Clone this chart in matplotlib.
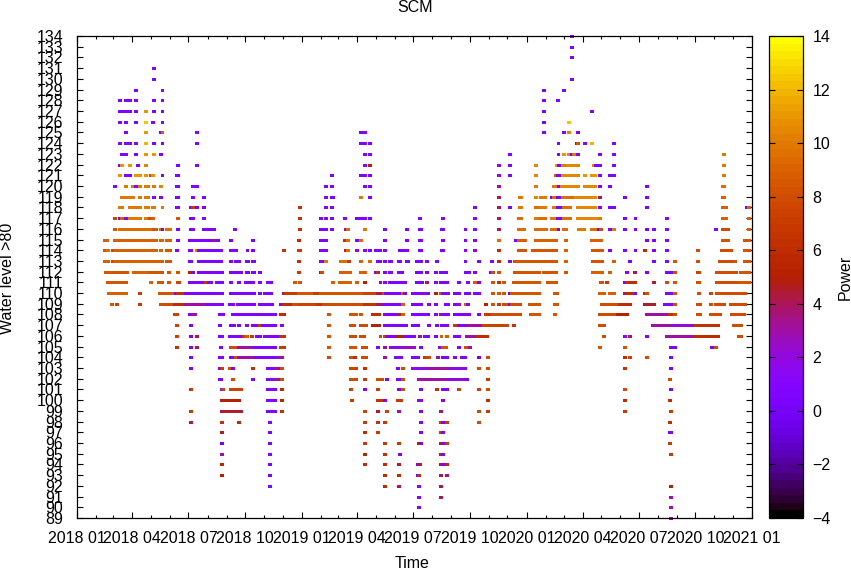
#!/usr/bin/env python3
"""SCM power by water level and date, gnuplot look."""

import matplotlib
matplotlib.use("Agg")
import matplotlib.pyplot as plt
import matplotlib.dates as mdates
from matplotlib.cm import ScalarMappable
from matplotlib.colors import Normalize

plt.rcParams["font.family"] = ["Liberation Sans", "DejaVu Sans"]

# ------------------------------------------------------------
# Data: (first day, last day, power)
# days are counted from 2018-01-01, one list per water level
# ------------------------------------------------------------

w134 = [(803, 803, 0.5)]
w133 = [(803, 803, 0.5)]
w132 = [(803, 803, 0.5)]
w131 = [(124, 124, 0.5)]
w130 = [(124, 124, 0.5), (803, 803, 0.5)]
w129 = [(95, 95, 0.5), (138, 138, 0.5), (757, 757, 0.5), (790, 790, 0.5)]
w128 = [(69, 69, 0.5), (78, 78, 0.5), (86, 86, 0.5), (95, 95, 0.5), (124, 124, 0.5), (138, 138, 0.5),
        (757, 757, 0.5), (780, 780, 0.5)]
w127 = [(69, 78, 0.5), (86, 86, 0.5), (95, 95, 0.5), (111, 111, 11), (124, 124, 0.5), (138, 138, 0.5),
        (757, 757, 0.5), (835, 835, 0.5)]
w126 = [(69, 69, 0.5), (78, 78, 0.5), (95, 95, 0.5), (111, 111, 12.5), (122, 122, 0.5), (138, 138, 0.5),
        (757, 757, 0.5), (798, 798, 12.5)]
w125 = [(78, 78, 0.5), (111, 111, 11), (135, 135, 0.5), (138, 138, 9), (194, 194, 0.5), (460, 460, 0.5),
        (467, 467, 0.5), (757, 757, 0.5), (790, 790, 0.5), (798, 798, 10.5), (812, 812, 0.5)]
w124 = [(69, 69, 0.5), (78, 78, 0.5), (86, 86, 0.5), (95, 95, 0.5), (111, 111, 12), (124, 124, 0.5),
        (138, 138, 0.5), (194, 194, 0.5), (460, 460, 0.5), (467, 467, 0.5), (475, 475, 0.5), (781, 781, 0.5),
        (811, 811, 0.5), (813, 813, 8.5), (824, 824, 0.5), (835, 835, 12), (871, 871, 0.5)]
w123 = [(73, 78, 0.5), (95, 95, 0.5), (111, 111, 11), (124, 124, 11), (135, 135, 0.5), (467, 467, 0.5),
        (475, 475, 0.5), (702, 702, 0.5), (781, 781, 0.5), (790, 790, 11), (798, 798, 10.5), (803, 803, 0.5),
        (806, 806, 10), (812, 812, 0.5), (848, 848, 0.5), (871, 871, 0.5), (1049, 1049, 10)]
w122 = [(69, 69, 0.5), (73, 73, 11), (86, 86, 11), (99, 99, 0.5), (111, 111, 10.5), (163, 163, 0.5),
        (194, 194, 0.5), (467, 467, 0.5), (475, 475, 5), (684, 684, 2), (702, 702, 0.5), (744, 744, 10.5),
        (778, 778, 11), (781, 785, 0.5), (788, 791, 10), (796, 812, 10.5), (838, 838, 10.5), (842, 842, 0.5),
        (848, 848, 0.5), (871, 871, 0.5), (1049, 1049, 10)]
w121 = [(69, 69, 11), (78, 78, 0.5), (86, 86, 0.5), (95, 95, 11), (101, 101, 11), (111, 111, 11),
        (119, 119, 8), (122, 122, 11), (138, 138, 0.5), (161, 164, 0.5), (413, 413, 0.5), (460, 460, 0.5),
        (467, 467, 0.5), (475, 475, 0.5), (684, 684, 2), (702, 702, 0.5), (744, 744, 10.5), (777, 777, 9),
        (780, 785, 0.5), (788, 812, 10.5), (824, 824, 11), (835, 840, 11), (848, 848, 0.5), (864, 864, 0.5),
        (871, 871, 0.5), (1049, 1049, 10)]
w120 = [(61, 61, 0.5), (78, 78, 10), (90, 90, 10), (95, 95, 0.5), (101, 101, 10), (111, 114, 10),
        (124, 124, 10), (135, 135, 10.5), (161, 164, 0.5), (187, 187, 0.5), (194, 194, 0.5), (403, 403, 0.5),
        (413, 413, 0.5), (467, 467, 0.5), (475, 475, 0.5), (684, 684, 3), (744, 744, 10), (773, 778, 10),
        (781, 781, 0.5), (786, 812, 10.5), (824, 840, 10.5), (848, 848, 0.5), (864, 864, 0.5),
        (924, 924, 0.5), (1048, 1050, 9.5)]
w119 = [(73, 78, 10), (86, 90, 10), (101, 101, 10), (111, 114, 10), (124, 124, 0.5), (135, 135, 0.5),
        (161, 164, 0.5), (187, 187, 0.5), (205, 205, 0.5), (403, 403, 0.5), (413, 415, 0.5), (460, 460, 10),
        (475, 475, 0.5), (684, 684, 4), (718, 720, 10), (744, 744, 10.5), (752, 759, 10), (770, 770, 0.5),
        (773, 773, 9.5), (780, 785, 0.5), (788, 804, 9.5), (809, 840, 10.5), (848, 848, 4), (889, 889, 0.5),
        (924, 924, 0.5), (1048, 1050, 9)]
w118 = [(69, 73, 10), (86, 95, 10), (101, 101, 10), (111, 114, 10), (122, 125, 10), (138, 138, 10),
        (161, 164, 0.5), (185, 185, 0.5), (187, 187, 7), (194, 194, 0.5), (205, 205, 0.5), (361, 361, 6.5),
        (403, 403, 0.5), (413, 413, 0.5), (645, 645, 0.5), (684, 684, 4), (702, 702, 0.5), (718, 720, 10),
        (744, 744, 9.5), (751, 759, 10), (773, 777, 10), (780, 788, 0.5), (790, 799, 9.5), (812, 840, 10.5),
        (848, 848, 0.5), (864, 864, 0.5), (871, 871, 0.5), (924, 924, 0.5), (1048, 1053, 9),
        (1087, 1087, 0.5), (1091, 1091, 9)]
w117 = [(61, 61, 7.5), (69, 69, 0.5), (73, 73, 9), (78, 78, 0.5), (86, 101, 10), (111, 114, 10),
        (117, 117, 8), (122, 122, 9), (163, 163, 8.5), (185, 187, 0.5), (205, 205, 0.5), (361, 361, 6.5),
        (395, 395, 0.5), (403, 403, 0.5), (413, 413, 0.5), (434, 434, 0.5), (454, 454, 0.5), (460, 460, 0.5),
        (467, 467, 0.5), (475, 475, 0.5), (556, 556, 0.5), (593, 593, 0.5), (645, 645, 0.5), (684, 684, 4),
        (717, 720, 9.5), (744, 744, 10), (751, 759, 9.5), (770, 775, 10), (780, 783, 0.5), (790, 799, 9.5),
        (812, 844, 10.5), (848, 848, 10), (889, 889, 0.5), (906, 906, 0.5), (957, 957, 0.5), (1048, 1053, 9),
        (1091, 1091, 9)]
w116 = [(61, 61, 8.5), (69, 80, 9.5), (86, 108, 9.5), (112, 121, 9.5), (124, 127, 8.5), (135, 135, 9.5),
        (138, 138, 0.5), (146, 150, 9.5), (163, 163, 0.5), (184, 187, 0.5), (205, 215, 0.5), (221, 221, 0.5),
        (255, 255, 0.5), (361, 361, 6.5), (395, 398, 0.5), (403, 403, 0.5), (413, 413, 0.5), (436, 436, 3),
        (439, 439, 9.5), (467, 467, 10), (499, 499, 0.5), (535, 535, 0.5), (556, 558, 0.5), (591, 593, 0.5),
        (630, 630, 0.5), (645, 645, 0.5), (684, 684, 4), (717, 725, 9.5), (744, 760, 9.5), (770, 778, 9.5),
        (781, 781, 0.5), (790, 794, 9.5), (814, 822, 10), (835, 843, 9.5), (846, 846, 0.5), (850, 850, 8),
        (864, 864, 0.5), (871, 871, 10), (889, 889, 0.5), (906, 906, 0.5), (924, 924, 0.5), (936, 936, 0.5),
        (957, 957, 0.5), (1036, 1036, 0.5), (1048, 1057, 8), (1091, 1091, 9)]
w115 = [(45, 48, 9), (61, 127, 9), (135, 138, 9), (146, 150, 9), (163, 163, 0.5), (182, 187, 0.5),
        (194, 215, 0.5), (221, 221, 3), (228, 228, 0.5), (250, 250, 0.5), (285, 285, 0.5), (359, 359, 6),
        (395, 398, 0.5), (403, 403, 0.5), (434, 434, 6.5), (439, 439, 9.5), (454, 454, 0.5), (460, 460, 9.5),
        (499, 499, 0.5), (535, 535, 0.5), (556, 558, 0.5), (593, 593, 0.5), (630, 630, 0.5), (645, 645, 0.5),
        (684, 684, 9.5), (712, 712, 0.5), (717, 726, 9), (744, 764, 9), (770, 777, 9), (793, 793, 9),
        (835, 843, 9), (848, 850, 9), (924, 924, 0.5), (936, 936, 0.5), (957, 957, 0.5), (1048, 1057, 8.5),
        (1083, 1087, 8.5), (1091, 1091, 8.5)]
w114 = [(45, 45, 8.5), (49, 49, 9.5), (57, 57, 7.5), (61, 127, 9), (135, 135, 9), (146, 150, 8.5),
        (161, 161, 0.5), (182, 185, 0.5), (194, 194, 10), (198, 233, 0.5), (250, 257, 0.5), (276, 276, 0.5),
        (285, 285, 0.5), (335, 335, 6.8), (359, 361, 7), (395, 398, 0.5), (403, 403, 0.5), (436, 436, 4),
        (439, 439, 9.5), (454, 454, 2), (467, 467, 0.5), (475, 475, 0.5), (484, 492, 0.5), (499, 499, 0.5),
        (523, 523, 0.5), (530, 535, 0.5), (556, 558, 0.5), (591, 593, 0.5), (630, 630, 0.5), (645, 645, 0.5),
        (684, 684, 6), (717, 726, 8.5), (739, 777, 8.5), (793, 793, 9), (837, 851, 8.5), (864, 864, 0.5),
        (889, 889, 0.5), (906, 906, 0.5), (921, 921, 6), (936, 936, 0.5), (957, 957, 0.5), (1007, 1007, 8),
        (1046, 1061, 8), (1083, 1091, 8.5)]
w113 = [(45, 49, 9), (57, 57, 7.5), (61, 138, 9), (146, 150, 8.5), (182, 185, 0.5), (198, 233, 0.5),
        (250, 250, 0.5), (257, 263, 0.5), (275, 277, 0.5), (285, 286, 0.5), (359, 359, 6.5), (395, 398, 0.5),
        (403, 403, 10), (428, 436, 9.5), (441, 441, 7), (460, 460, 9), (475, 475, 9.5), (488, 492, 0.5),
        (499, 499, 0.5), (507, 509, 0.5), (522, 523, 0.5), (535, 536, 0.5), (551, 558, 0.5), (567, 567, 0.5),
        (583, 583, 0.5), (630, 630, 0.5), (652, 652, 0.5), (673, 673, 0.5), (684, 684, 6), (702, 702, 0.5),
        (710, 733, 8.5), (739, 777, 8.5), (793, 793, 9), (837, 851, 8.5), (871, 871, 9), (897, 897, 0.5),
        (936, 936, 0.5), (957, 957, 0.5), (970, 970, 8.5), (1007, 1007, 8), (1044, 1064, 8), (1067, 1067, 8.5),
        (1083, 1090, 8.5)]
w112 = [(47, 81, 8.5), (91, 111, 9), (117, 138, 8.5), (148, 148, 8.5), (163, 163, 8.5), (182, 182, 5),
        (187, 187, 0.5), (198, 235, 0.5), (250, 265, 0.5), (275, 277, 0.5), (285, 286, 0.5), (296, 296, 0.5),
        (359, 359, 7), (395, 395, 0.5), (397, 397, 8), (428, 442, 9), (460, 460, 9), (467, 467, 9),
        (484, 484, 0.5), (488, 488, 6), (499, 499, 0.5), (507, 509, 0.5), (522, 527, 0.5), (551, 551, 0.5),
        (554, 558, 0.5), (567, 567, 0.5), (582, 582, 0.5), (590, 598, 0.5), (630, 635, 0.5), (645, 645, 0.5),
        (671, 671, 0.5), (674, 674, 8), (684, 684, 8.5), (710, 749, 8.5), (757, 777, 8.5), (793, 793, 8.5),
        (837, 851, 9), (864, 864, 9), (892, 892, 0.5), (905, 905, 4), (924, 924, 0.5), (957, 963, 0.5),
        (970, 970, 8), (1007, 1009, 7.5), (1038, 1069, 8), (1078, 1090, 8.5)]
w111 = [(49, 78, 8.5), (119, 119, 9), (132, 138, 8.5), (148, 148, 8.5), (163, 165, 7.5), (182, 187, 0.5),
        (194, 205, 0.5), (209, 209, 7), (213, 217, 0.5), (226, 235, 0.5), (250, 250, 0.5), (262, 262, 0.5),
        (273, 285, 0.5), (296, 296, 0.5), (309, 314, 0.5), (353, 353, 8.5), (361, 361, 8.5), (415, 415, 9),
        (426, 442, 9), (454, 454, 9), (467, 467, 5), (492, 492, 0.5), (499, 499, 0.5), (507, 514, 0.5),
        (520, 532, 0.5), (551, 559, 0.5), (567, 567, 4), (582, 582, 0.5), (590, 593, 0.5), (600, 600, 0.5),
        (619, 619, 0.5), (634, 634, 0.5), (645, 645, 9), (652, 652, 0.5), (675, 675, 8.5), (684, 684, 6.5),
        (692, 692, 8.5), (708, 749, 8.5), (764, 770, 8.5), (777, 777, 8.5), (850, 851, 8.5), (860, 860, 7),
        (889, 889, 0.5), (892, 906, 6), (936, 936, 4.5), (957, 957, 8), (970, 970, 8.5), (1007, 1009, 8),
        (1038, 1056, 8), (1061, 1072, 8), (1078, 1090, 8.5)]
w110 = [(51, 64, 9), (69, 72, 9), (78, 78, 9), (101, 101, 7), (134, 156, 8.5), (160, 160, 0.5), (163, 173, 6.5),
        (176, 235, 0.5), (250, 268, 0.5), (273, 286, 0.5), (296, 296, 0.5), (304, 314, 0.5), (336, 336, 4),
        (339, 359, 7), (360, 385, 8.5), (386, 395, 7), (396, 465, 8.5), (466, 481, 7.5), (488, 495, 4),
        (497, 497, 8), (501, 527, 0.5), (528, 528, 9), (532, 532, 0.5), (544, 559, 0.5), (564, 569, 0.5),
        (582, 582, 5), (590, 590, 8), (593, 601, 0.5), (613, 613, 0.5), (619, 619, 0.5), (630, 635, 0.5),
        (645, 645, 0.5), (652, 652, 0.5), (674, 674, 8.5), (684, 684, 8.5), (692, 692, 8.5), (702, 702, 0.5),
        (705, 723, 8.5), (730, 749, 8.5), (775, 778, 8.5), (848, 855, 9), (864, 864, 9), (871, 871, 9),
        (889, 889, 4), (892, 903, 6), (906, 906, 0.5), (921, 921, 6), (924, 924, 8), (957, 965, 0.5),
        (970, 970, 8.5), (1009, 1009, 8), (1028, 1028, 7.5), (1038, 1054, 8), (1061, 1084, 8)]
w109 = [(56, 56, 8.5), (64, 64, 7.5), (101, 101, 7), (135, 156, 8), (159, 173, 6), (176, 210, 3),
        (211, 235, 0.5), (247, 252, 0.5), (260, 268, 0.5), (275, 275, 0.5), (281, 286, 0.5), (296, 316, 0.5),
        (330, 330, 0.5), (335, 348, 6), (351, 361, 8), (362, 390, 7.5), (391, 400, 6.5), (401, 465, 8),
        (466, 481, 6.5), (488, 495, 4), (497, 523, 0.5), (528, 528, 9), (544, 549, 0.5), (554, 558, 0.5),
        (570, 570, 0.5), (582, 582, 0.5), (598, 601, 0.5), (613, 613, 0.5), (619, 619, 3), (630, 630, 9),
        (634, 634, 0.5), (664, 664, 5), (674, 674, 8.5), (684, 684, 7), (692, 699, 8), (702, 702, 0.5),
        (705, 718, 8), (734, 749, 8.5), (775, 778, 8.5), (851, 880, 8), (881, 897, 6), (921, 936, 4.5),
        (954, 958, 0.5), (963, 963, 0.5), (970, 970, 8), (1007, 1010, 8), (1028, 1028, 8), (1036, 1036, 8),
        (1043, 1049, 8), (1061, 1084, 8)]
w108 = [(159, 162, 7.5), (182, 188, 0.5), (189, 191, 3), (231, 236, 0.5), (252, 285, 0.5), (289, 321, 0.5),
        (330, 330, 6), (335, 335, 6), (408, 408, 8.5), (444, 452, 8.5), (460, 460, 8.5), (480, 489, 6),
        (499, 520, 0.5), (523, 523, 5), (528, 528, 9), (544, 559, 0.5), (564, 569, 0.5), (582, 582, 0.5),
        (590, 590, 3), (593, 601, 0.5), (613, 613, 0.5), (619, 626, 0.5), (630, 635, 0.5), (652, 652, 0.5),
        (663, 671, 7), (674, 692, 8), (695, 718, 8), (736, 749, 8.5), (775, 775, 8.5), (848, 874, 8),
        (877, 892, 5), (924, 958, 3), (962, 965, 6.5), (970, 970, 8), (1007, 1010, 8), (1028, 1032, 8),
        (1036, 1040, 8), (1044, 1044, 8), (1062, 1082, 8)]
w107 = [(161, 161, 7.5), (185, 185, 0.5), (231, 231, 0.5), (250, 254, 0.5), (263, 263, 0.5), (275, 275, 0.5),
        (285, 294, 0.5), (296, 296, 7), (301, 321, 0.5), (332, 332, 0.5), (408, 408, 8.5), (444, 449, 8),
        (460, 468, 8), (480, 489, 5), (499, 533, 0.5), (544, 553, 0.5), (570, 570, 0.5), (583, 583, 0.5),
        (591, 600, 0.5), (613, 613, 7), (619, 626, 0.5), (632, 660, 3), (660, 698, 7.5), (708, 708, 6.5),
        (848, 848, 8), (855, 855, 8), (934, 968, 3), (968, 1003, 2), (1004, 1040, 6.5), (1066, 1078, 8)]
w106 = [(161, 161, 7.5), (185, 185, 0.5), (194, 194, 4), (231, 235, 0.5), (247, 267, 0.5), (270, 270, 7),
        (275, 275, 9), (283, 283, 7), (292, 297, 0.5), (304, 304, 0.5), (310, 327, 0.5), (330, 335, 6.5),
        (408, 408, 8.5), (444, 450, 8), (460, 465, 8), (492, 492, 8), (499, 499, 8), (502, 502, 0.5),
        (509, 518, 0.5), (519, 532, 5), (533, 546, 0.5), (556, 556, 3), (564, 569, 0.5), (582, 582, 0.5),
        (591, 591, 9), (600, 600, 9), (613, 613, 0.5), (619, 619, 0.5), (632, 650, 3), (651, 665, 6),
        (855, 855, 8), (889, 889, 0.5), (897, 897, 4), (924, 924, 0.5), (957, 1003, 3), (1004, 1040, 6),
        (1074, 1078, 8)]
w105 = [(161, 161, 6.5), (185, 185, 0.5), (194, 194, 4), (233, 233, 0.5), (250, 257, 8), (262, 284, 3),
        (286, 321, 0.5), (330, 335, 7), (408, 408, 8.5), (444, 450, 8.5), (463, 468, 8), (488, 488, 0.5),
        (499, 499, 3), (509, 524, 1.5), (528, 546, 2.5), (558, 558, 0.5), (588, 588, 0.5), (593, 598, 8.5),
        (619, 619, 0.5), (630, 634, 8), (637, 637, 3), (848, 848, 8.5), (889, 889, 8.5), (963, 971, 0.5),
        (1031, 1031, 0.5), (1036, 1036, 8)]
w104 = [(185, 185, 0.5), (231, 235, 0.5), (250, 254, 0.5), (257, 257, 8), (262, 286, 3), (289, 324, 0.5),
        (327, 332, 3), (408, 408, 8), (444, 447, 8), (450, 450, 6), (463, 468, 8), (499, 499, 3),
        (517, 525, 0.5), (544, 553, 0.5), (564, 564, 7), (570, 570, 8), (585, 585, 3), (593, 593, 0.5),
        (600, 600, 0.5), (613, 613, 0.5), (624, 624, 0.5), (630, 630, 0.5), (652, 652, 0), (666, 666, 8),
        (889, 889, 6), (897, 897, 7.5), (924, 924, 8), (963, 963, 0.5)]
w103 = [(185, 185, 0.5), (231, 231, 0.5), (234, 234, 7), (247, 247, 8), (252, 252, 0.5), (285, 285, 6.5),
        (309, 319, 0.5), (321, 327, 3), (332, 332, 8), (444, 452, 7.5), (467, 467, 6.5), (520, 520, 0.5),
        (528, 528, 8), (544, 570, 1.5), (571, 605, 3), (606, 630, 1.5), (652, 652, 8), (666, 666, 8),
        (889, 889, 6.5), (963, 963, 0.5)]
w102 = [(231, 233, 0.5), (252, 252, 8), (285, 285, 0.5), (309, 319, 0.5), (321, 327, 3), (332, 332, 8),
        (444, 452, 8), (467, 467, 7), (488, 494, 8), (502, 502, 0.5), (520, 525, 0.5), (528, 528, 8),
        (554, 600, 3), (601, 630, 2), (633, 633, 0.5), (666, 666, 7), (962, 962, 8)]
w101 = [(185, 185, 7), (234, 234, 0.5), (237, 237, 7.5), (250, 265, 7.5), (310, 320, 0.5), (332, 332, 6),
        (444, 444, 7.5), (467, 467, 0.5), (488, 488, 7), (522, 522, 0.5), (528, 528, 8), (558, 558, 0.5),
        (583, 583, 6.5), (593, 593, 0.5), (600, 600, 0.5), (619, 619, 7.5), (652, 652, 7.5), (666, 666, 8),
        (889, 889, 8), (963, 963, 0.5)]
w100 = [(234, 262, 5), (310, 321, 0.5), (332, 332, 5.5), (445, 445, 7), (488, 494, 6.5), (499, 499, 0.5),
        (520, 525, 7), (554, 558, 1.5), (593, 593, 0.5), (666, 666, 6), (889, 889, 6), (962, 962, 6)]
w99 = [(185, 185, 7), (234, 234, 4), (237, 265, 4.5), (310, 320, 0.5), (332, 332, 6.5), (467, 467, 7.5),
       (488, 488, 4.5), (502, 502, 7.5), (522, 522, 3), (558, 558, 0.5), (590, 590, 4), (652, 652, 8),
       (666, 666, 7), (889, 889, 7), (963, 963, 7)]
w98 = [(185, 185, 4), (234, 234, 6.5), (263, 263, 6), (312, 312, 0.5), (467, 467, 7), (488, 488, 6.5),
       (499, 499, 7), (558, 558, 0.5), (590, 590, 7), (593, 593, 0.5), (600, 600, 7), (652, 652, 8),
       (962, 962, 6)]
w97 = [(234, 234, 4.5), (312, 312, 0.5), (467, 467, 6), (488, 488, 7), (558, 558, 0.5), (590, 590, 7),
       (593, 593, 0.5), (962, 963, 0.5)]
w96 = [(234, 234, 0), (312, 312, 0.5), (467, 467, 7), (499, 499, 7), (522, 522, 7), (554, 554, 5),
       (558, 558, 0.5), (590, 590, 5), (593, 593, 0.5), (600, 600, 7), (962, 962, 7)]
w95 = [(234, 234, 3), (312, 312, 0.5), (467, 467, 5.5), (499, 499, 6.5), (523, 523, 0.5), (590, 590, 4),
       (593, 593, 0.5), (963, 963, 7)]
w94 = [(234, 234, 5.5), (312, 312, 0.5), (467, 467, 6), (499, 499, 6), (522, 522, 4.5), (553, 553, 0.5),
       (556, 556, 4.5), (590, 590, 4), (593, 593, 0.5), (600, 600, 6)]
w93 = [(234, 234, 5), (312, 312, 0.5), (499, 499, 6), (522, 522, 6), (553, 553, 0.5), (555, 555, 6),
       (590, 590, 4), (600, 600, 3.5)]
w92 = [(312, 312, 0.5), (499, 499, 6), (522, 522, 4), (554, 554, 0.5), (590, 590, 4), (963, 963, 5)]
w91 = [(554, 554, 0.5), (590, 590, 4), (963, 963, 3)]
w90 = [(554, 554, 0.5), (963, 963, 3)]
w89 = [(963, 963, 3)]

runs_by_level = {
    134: w134, 133: w133, 132: w132, 131: w131, 130: w130, 129: w129, 128: w128, 127: w127, 126: w126,
    125: w125, 124: w124, 123: w123, 122: w122, 121: w121, 120: w120, 119: w119, 118: w118, 117: w117,
    116: w116, 115: w115, 114: w114, 113: w113, 112: w112, 111: w111, 110: w110, 109: w109, 108: w108,
    107: w107, 106: w106, 105: w105, 104: w104, 103: w103, 102: w102, 101: w101, 100: w100, 99: w99,
    98: w98, 97: w97, 96: w96, 95: w95, 94: w94, 93: w93, 92: w92, 91: w91, 90: w90, 89: w89,
}

start_date = "2018-01-01"
end_date = "2021-01-01"
power_ticks = [-4, -2, 0, 2, 4, 6, 8, 10, 12, 14]

# half a square marker, in days
half_marker = 2.4

# ------------------------------------------------------------
# Plot
# ------------------------------------------------------------

W, H = 851, 570
fig = plt.figure(figsize=(W / 100, H / 100), dpi=100)
ax = fig.add_axes([77 / W, 1 - 518 / H, 675 / W, 482 / H])
cax = fig.add_axes([769 / W, 1 - 518 / H, 34 / W, 482 / H])

cmap = plt.get_cmap("gnuplot")
norm = Normalize(-4, 14)
day0 = mdates.datestr2num(start_date)

for level, runs in runs_by_level.items():
    starts = [day0 + r[0] - half_marker for r in runs]
    ends = [day0 + r[1] + half_marker for r in runs]
    colors = [cmap(norm(r[2])) for r in runs]
    ax.hlines([level] * len(runs), starts, ends, colors=colors, linewidth=2.16,
              capstyle="butt", antialiased=False, clip_on=False, zorder=3)

ax.set_xlim(day0, mdates.datestr2num(end_date))
ax.set_ylim(89, 134)
ax.set_yticks(range(89, 135))
ax.xaxis.set_major_locator(mdates.MonthLocator(bymonth=[1, 4, 7, 10]))
ax.xaxis.set_minor_locator(mdates.MonthLocator())
ax.xaxis.set_major_formatter(mdates.DateFormatter("%Y %m"))
ax.tick_params(which="major", direction="in", length=4.5, width=0.8, top=True, right=True,
               labelsize=11.5, pad=10)
ax.tick_params(which="minor", direction="in", length=2.2, width=0.8, top=True)
ax.tick_params(axis="x", which="major", pad=9.5)
for s in ax.spines.values():
    s.set_linewidth(0.9)
    s.set_zorder(5)

fig.text(415 / W, 1 - 7 / H, "SCM", ha="center", va="center", fontsize=11.5)
fig.text(412 / W, 1 - 564 / H, "Time", ha="center", va="center", fontsize=11.5)
fig.text(8 / W, 1 - 278 / H, "Water level >80", rotation=90, ha="center", va="center", fontsize=11.5)

cb = fig.colorbar(ScalarMappable(norm=norm, cmap=plt.get_cmap("gnuplot", 64)), cax=cax)
cb.set_ticks(power_ticks)
cb.ax.tick_params(direction="in", length=4.5, width=0.8, left=True, right=True, labelsize=11.5, pad=7)
cb.outline.set_linewidth(0.9)
fig.text(845 / W, 1 - 277 / H, "Power", rotation=90, ha="center", va="center", fontsize=11.5)

fig.savefig("out.png", dpi=100)
